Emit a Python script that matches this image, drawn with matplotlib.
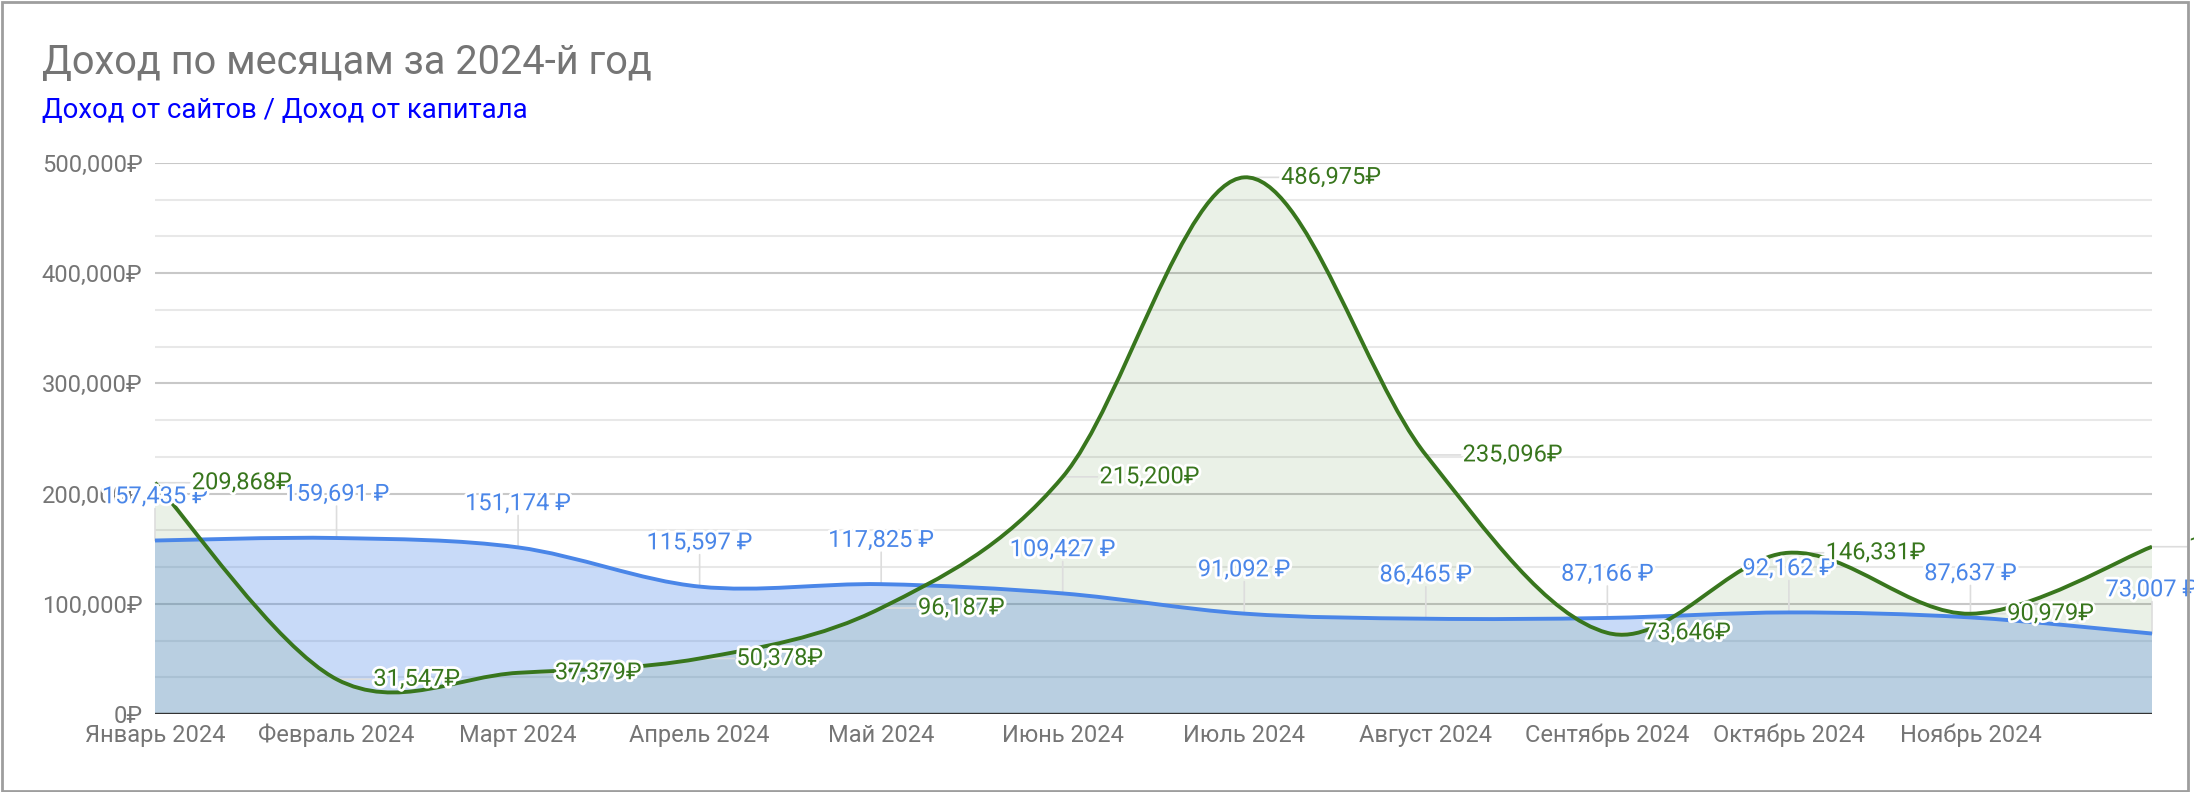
# plot.py — доход по месяцам 2024: сайты vs капитал (сглаженные области)
import matplotlib
matplotlib.use("Agg")
import matplotlib.pyplot as plt
import matplotlib.patheffects as pe
from matplotlib.path import Path
from matplotlib.patches import PathPatch, Rectangle
from matplotlib.ticker import FuncFormatter, MultipleLocator

plt.rcParams["font.family"] = ["Roboto", "DejaVu Sans"]

months = ["Январь 2024", "Февраль 2024", "Март 2024", "Апрель 2024", "Май 2024",
          "Июнь 2024", "Июль 2024", "Август 2024", "Сентябрь 2024",
          "Октябрь 2024", "Ноябрь 2024", "Декабрь 2024"]
sites = [157435, 159691, 151174, 115597, 117825, 109427,
         91092, 86465, 87166, 92162, 87637, 73007]
capital = [209868, 31547, 37379, 50378, 96187, 215200,
           486975, 235096, 73646, 146331, 90979, 151800]

BLUE, GREEN = "#4a86e8", "#38761d"
W, H = 2194, 792


def smooth(x, y, closed=False):
    # catmull-rom через точки, как curveType 'function'
    pts = list(zip(x, y))
    n = len(pts)
    verts, codes = [pts[0]], [Path.MOVETO]
    for i in range(n - 1):
        p0, p1, p2, p3 = pts[max(i - 1, 0)], pts[i], pts[i + 1], pts[min(i + 2, n - 1)]
        c1 = (p1[0] + (p2[0] - p0[0]) / 6, p1[1] + (p2[1] - p0[1]) / 6)
        c2 = (p2[0] - (p3[0] - p1[0]) / 6, p2[1] - (p3[1] - p1[1]) / 6)
        verts += [c1, c2, p2]
        codes += [Path.CURVE4] * 3
    if closed:
        verts += [(x[-1], 0), (x[0], 0), (x[0], 0)]
        codes += [Path.LINETO, Path.LINETO, Path.CLOSEPOLY]
    return Path(verts, codes)


fig = plt.figure(figsize=(W / 100, H / 100), dpi=100)
ax = fig.add_axes([155 / W, 78 / H, (2152 - 155) / W, 551 / H])
xs = list(range(len(months)))

ax.set_xlim(0, len(months) - 1)
ax.set_ylim(0, 500000)
for s in ax.spines.values():
    s.set_visible(False)
ax.yaxis.set_major_locator(MultipleLocator(100000))
ax.yaxis.set_minor_locator(MultipleLocator(100000 / 3))
ax.grid(which="major", axis="y", color="#c8c8c8", lw=1.5, zorder=0)
ax.grid(which="minor", axis="y", color="#e8e8e8", lw=1.5, zorder=0)
ax.set_axisbelow(True)
ax.yaxis.set_major_formatter(FuncFormatter(lambda v, p: f"{int(v):,}₽"))
ax.tick_params(which="both", length=0)
ax.tick_params(axis="y", labelsize=17, labelcolor="#757575", pad=9)
ax.tick_params(axis="x", labelsize=17, labelcolor="#757575", pad=7)
ax.set_xticks(xs[:11])
ax.set_xticklabels(months[:11])

# области
ax.add_patch(PathPatch(smooth(xs, sites, True), fc=BLUE, alpha=0.3, lw=0, zorder=1))
ax.add_patch(PathPatch(smooth(xs, capital, True), fc=GREEN, alpha=0.1, lw=0, zorder=1.1))
ax.add_patch(PathPatch(smooth(xs, sites), fill=False, ec=BLUE, lw=2.8, zorder=3))
ax.add_patch(PathPatch(smooth(xs, capital), fill=False, ec=GREEN, lw=2.8, zorder=3.1))
ax.axhline(0, color="#333333", lw=1.7, zorder=4)

halo = [pe.withStroke(linewidth=4, foreground="white")]
for x, v in zip(xs, sites):
    ax.annotate("", xy=(x, v), xytext=(0, 23), textcoords="offset points",
                arrowprops=dict(arrowstyle="-", color="#dddddd", lw=1.2,
                                shrinkA=0, shrinkB=0), zorder=2)
    ax.annotate(f"{v:,} ₽", xy=(x, v), xytext=(0, 31.5), textcoords="offset points",
                ha="center", va="center", fontsize=17, color=BLUE,
                path_effects=halo, zorder=5)
for x, v in zip(xs, capital):
    ax.annotate("", xy=(x, v), xytext=(25, 0), textcoords="offset points",
                arrowprops=dict(arrowstyle="-", color="#dddddd", lw=1.2,
                                shrinkA=0, shrinkB=0), zorder=2)
    ax.annotate(f"{v:,}₽", xy=(x, v), xytext=(26.5, 0), textcoords="offset points",
                ha="left", va="center", fontsize=17, color=GREEN,
                path_effects=halo, zorder=5.1)

fig.text(42 / W, 1 - 74 / H, "Доход по месяцам за 2024-й год", fontsize=28.6,
         color="#757575", va="baseline", ha="left")
fig.text(42 / W, 1 - 118 / H, "Доход от сайтов / Доход от капитала", fontsize=19.8,
         color="#0000ff", va="baseline", ha="left")
fig.patches.append(Rectangle((1.5 / W, 1.5 / H), 2186.5 / W, 789 / H,
                             transform=fig.transFigure, fill=False,
                             ec="#9e9e9e", lw=2))

fig.savefig("out.png", dpi=100)
